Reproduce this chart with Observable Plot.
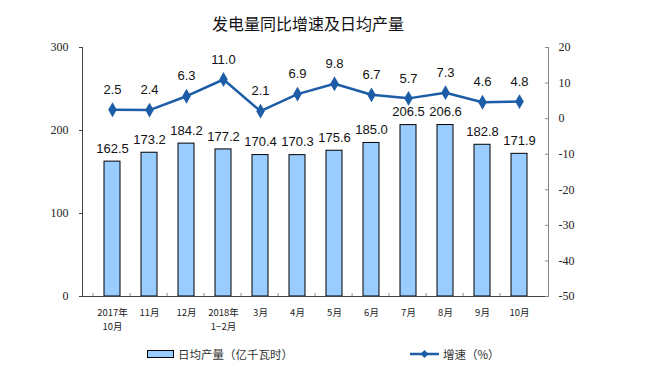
<!DOCTYPE html>
<html>
<head>
<meta charset="utf-8">
<script src="https://cdn.jsdelivr.net/npm/d3@7"></script>
<script src="https://cdn.jsdelivr.net/npm/@observablehq/plot@0.6"></script>
<style>
  body { margin: 0; background: #fff; }
  #wrap { position: relative; width: 654px; height: 381px; overflow: hidden; }
  #title { position: absolute; left: 0; width: 616px; top: 11px; text-align: center;
           font-family: "Noto Sans CJK SC", sans-serif; font-size: 16px; color: #111; }
  .leg { position: absolute; top: 346px; font-family: "Noto Sans CJK SC", sans-serif; font-size: 11.5px; color: #333;
         display: flex; align-items: center; gap: 4px; }
</style>
</head>
<body>
<div id="wrap">
  <div id="title">发电量同比增速及日均产量</div>
  <div class="leg" style="left:147px">
    <svg width="27" height="10"><rect x="0.5" y="1.5" width="26" height="7" fill="#99CCFF" stroke="#000"/></svg>
    <span>日均产量（亿千瓦时）</span>
  </div>
  <div class="leg" style="left:410px">
    <svg width="29" height="10"><line x1="0" x2="29" y1="5" y2="5" stroke="#1d5ca6" stroke-width="2.5"/><path d="M14.5,1 L18.5,5 L14.5,9 L10.5,5Z" fill="#1d5ca6"/></svg>
    <span>增速（%）</span>
  </div>
</div>
<script>
const categories = ["2017年\n10月", "11月", "12月", "2018年\n1−2月", "3月", "4月", "5月", "6月", "7月", "8月", "9月", "10月"];
const output = [162.5, 173.2, 184.2, 177.2, 170.4, 170.3, 175.6, 185.0, 206.5, 206.6, 182.8, 171.9];
const growth = [2.5, 2.4, 6.3, 11.0, 2.1, 6.9, 9.8, 6.7, 5.7, 7.3, 4.6, 4.8];
const leftTicks = [0, 100, 200, 300];
const rightTicks = [20, 10, 0, -10, -20, -30, -40, -50];

// right axis domain [-50, 20] mapped onto left domain [0, 300]
const rMin = -50, rMax = 20, lMax = 300;
const toLeft = v => (v - rMin) / (rMax - rMin) * lMax;

const data = categories.map((c, i) => ({cat: c, output: output[i], growth: growth[i], gy: toLeft(growth[i])}));

const W = 654, H = 381, mL = 82, mR = 106, mT = 47, mB = 85;
const step = (W - mL - mR) / categories.length;
const lineColor = "#1d5ca6";
const sans = "Liberation Sans, Arial, sans-serif";
const serif = "Liberation Serif, Times New Roman, serif";

const plot = Plot.plot({
  width: W, height: H,
  marginLeft: mL, marginRight: mR, marginTop: mT, marginBottom: mB,
  style: {background: "transparent", color: "#222"},
  x: {type: "band", domain: categories, padding: 0.58, axis: null, label: null},
  y: {domain: [0, lMax], axis: null, label: null},
  marks: [
    Plot.barY(data, {x: "cat", y: "output", fill: "#99CCFF", stroke: "#000", strokeWidth: 1}),
    Plot.frame({anchor: "left", stroke: "#444"}),
    Plot.frame({anchor: "right", stroke: "#888"}),
    Plot.frame({anchor: "bottom", stroke: "#444"}),
    // left axis
    Plot.axisY(leftTicks, {anchor: "left", label: null, tickSize: 3, tickPadding: 11, fontSize: 12, fontFamily: serif, stroke: "#444"}),
    // right axis ticks (inward) and labels
    Plot.axisY(rightTicks.map(toLeft), {anchor: "right", label: null, tickSize: 4, dx: -4, tickFormat: () => "", stroke: "#888"}),
    Plot.axisY(rightTicks.map(toLeft), {anchor: "right", label: null, tickSize: 0, tickPadding: 10, fontSize: 12, fontFamily: serif,
      tickFormat: d => String(Math.round(d / lMax * (rMax - rMin) + rMin))}),
    // x axis boundary ticks (inward)
    Plot.axisX(categories, {anchor: "bottom", label: null, tickSize: 3, dy: -3, dx: -step / 2, tickFormat: () => "", stroke: "#888"}),
    // x labels
    Plot.axisX(categories, {anchor: "bottom", label: null, tickSize: 0, tickPadding: 9, fontSize: 9.5, lineHeight: 1.5,
      fontFamily: "Noto Sans CJK SC, sans-serif", fill: "#222"}),
    // bar labels
    Plot.text(data, {x: "cat", y: "output", text: d => d.output.toFixed(1), dy: -13, fontSize: 13, fontFamily: sans, fill: "#111"}),
    // growth line
    Plot.line(data, {x: "cat", y: "gy", stroke: lineColor, strokeWidth: 2.5}),
    Plot.dot(data, {x: "cat", y: "gy", symbol: "diamond", fill: lineColor, r: 4.5}),
    Plot.text(data, {x: "cat", y: "gy", text: d => d.growth.toFixed(1), dy: -20, fontSize: 13, fontFamily: sans, fill: "#111"})
  ]
});
plot.style.position = "absolute";
plot.style.left = "0";
plot.style.top = "0";
document.getElementById("wrap").prepend(plot);
</script>
</body>
</html>
